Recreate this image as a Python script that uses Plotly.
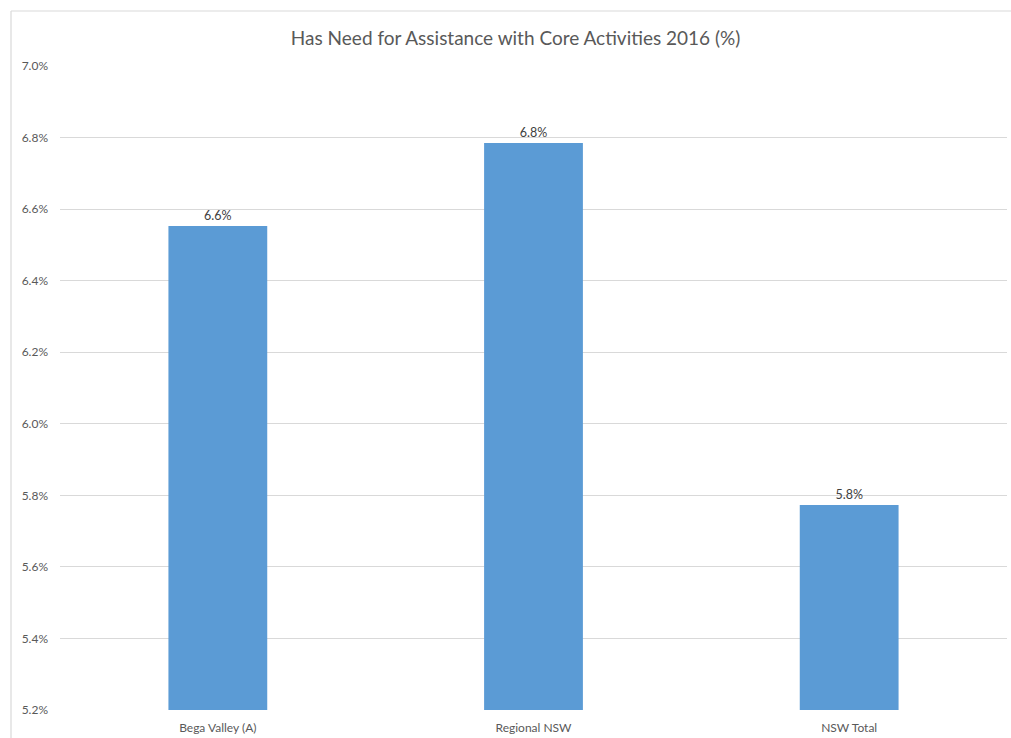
import plotly.graph_objects as go

# Share of population needing assistance with core activities, 2016 (%)
regions = ["Bega Valley (A)", "Regional NSW", "NSW Total"]
need_assistance_pct = [6.553, 6.785, 5.773]

y_ticks = [5.2, 5.4, 5.6, 5.8, 6.0, 6.2, 6.4, 6.6, 6.8, 7.0]

W, H = 1011, 738
ML, MR, MT, MB = 60, 4, 66, 28
plot_w = W - ML - MR
plot_h = H - MT - MB

grey_text = "#595959"
grid_col = "#d9d9d9"
font_family = "Lato, 'Open Sans', sans-serif"

fig = go.Figure(
    go.Bar(
        x=regions,
        y=need_assistance_pct,
        marker=dict(color="#5b9bd5", line=dict(width=0)),
        texttemplate="%{y:.1f}%",
        textposition="outside",
        textfont=dict(family=font_family, size=12.5, color="#404040"),
        cliponaxis=False,
        hoverinfo="skip",
    )
)

# outer chart frame (left and top edges)
fx = (11 - ML) / plot_w
fy = 1 + (MT - 11) / plot_h
frame = dict(type="line", xref="paper", yref="paper",
             line=dict(color=grid_col, width=1.2), layer="below")
fig.add_shape(x0=fx, x1=fx, y0=fy, y1=-0.2, **frame)
fig.add_shape(x0=fx, x1=1.1, y0=fy, y1=fy, **frame)

fig.update_layout(
    width=W,
    height=H,
    margin=dict(l=ML, r=MR, t=MT, b=MB, pad=0),
    paper_bgcolor="white",
    plot_bgcolor="white",
    showlegend=False,
    bargap=0.687,
    title=dict(
        text="Has Need for Assistance with Core Activities 2016 (%)",
        x=0.51, xref="container", xanchor="center",
        y=1 - 38 / H, yref="container", yanchor="middle",
        font=dict(family=font_family, size=19, color=grey_text),
    ),
    font=dict(family=font_family, color=grey_text),
    xaxis=dict(
        showgrid=False,
        showline=False,
        zeroline=False,
        ticks="",
        tickfont=dict(size=12, color=grey_text),
        ticklabelstandoff=9,
    ),
    yaxis=dict(
        range=[5.2, 7.0],
        tickvals=y_ticks,
        ticktext=[f"{v:.1f}%" for v in y_ticks],
        showgrid=True,
        gridcolor=grid_col,
        gridwidth=1.2,
        showline=False,
        zeroline=False,
        ticks="",
        tickfont=dict(size=12, color=grey_text),
        ticklabelstandoff=11,
    ),
)

fig.write_html("out.html")
